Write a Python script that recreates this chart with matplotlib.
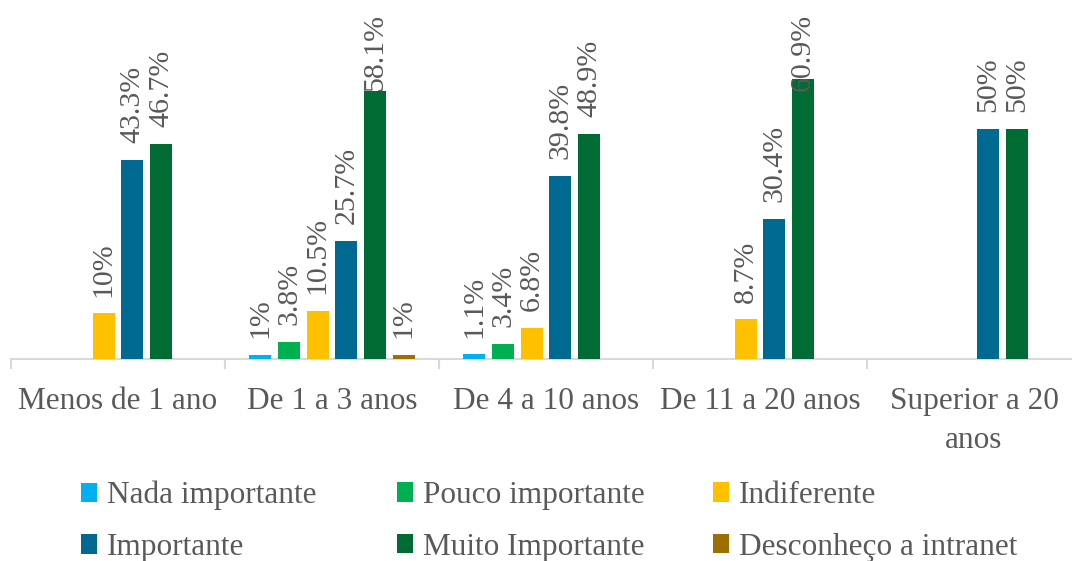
import numpy as np
import matplotlib
matplotlib.use("Agg")
import matplotlib.pyplot as plt
from matplotlib.patches import Patch

plt.rcParams['font.family'] = ['Liberation Serif', 'DejaVu Serif']

categories = ["Menos de 1 ano", "De 1 a 3 anos", "De 4 a 10 anos",
              "De 11 a 20 anos", "Superior a 20\nanos"]
series_names = ["Nada importante", "Pouco importante", "Indiferente",
                "Importante", "Muito Importante", "Desconheço a intranet"]
nan = np.nan
nada = [nan, 1.0, 1.1, nan, nan]
pouco = [nan, 3.8, 3.4, nan, nan]
indiferente = [10.0, 10.5, 6.8, 8.7, nan]
importante = [43.3, 25.7, 39.8, 30.4, 50.0]
muito = [46.7, 58.1, 48.9, 60.9, 50.0]
desconheco = [nan, 1.0, nan, nan, nan]
labels_text = [
    [None, "1%", "1.1%", None, None],
    [None, "3.8%", "3.4%", None, None],
    ["10%", "10.5%", "6.8%", "8.7%", None],
    ["43.3%", "25.7%", "39.8%", "30.4%", "50%"],
    ["46.7%", "58.1%", "48.9%", "60.9%", "50%"],
    [None, "1%", None, None, None],
]
series = [nada, pouco, indiferente, importante, muito, desconheco]
colors = ["#00B0F0", "#00B050", "#FFC000", "#006991", "#006B32", "#9C7000"]
text_color = "#595959"
axis_color = "#D9D9D9"

W, H, DPI = 1072, 561, 100
fig = plt.figure(figsize=(W / DPI, H / DPI), dpi=DPI)
fig.patch.set_facecolor("white")

base_y = 359.3
px_per_unit = 4.61
ymax = 70
ax_h = ymax * px_per_unit
ax = fig.add_axes([11 / W, (H - base_y) / H, 1070 / W, ax_h / H])
ax.set_xlim(-0.5, len(categories) - 0.5)
ax.set_ylim(0, ymax)

x = np.arange(len(categories))
pitch = 0.134
width = 0.104
n = len(series)
label_gap_pt = 12.0
annotations = []
for i, (vals, col, name) in enumerate(zip(series, colors, series_names)):
    off = (i - (n - 1) / 2) * pitch
    v = np.array(vals, dtype=float)
    ax.bar(x + off, np.nan_to_num(v), width=width, color=col, label=name,
           zorder=3)
    for j, val in enumerate(v):
        if np.isnan(val) or labels_text[i][j] is None:
            continue
        a = ax.annotate(labels_text[i][j], (x[j] + off, val),
                        xytext=(0, label_gap_pt), textcoords="offset points",
                        rotation=90, ha="center", va="bottom",
                        fontsize=21.5, color=text_color,
                        annotation_clip=False, zorder=4)
        annotations.append(a)

for s in ["top", "right", "left"]:
    ax.spines[s].set_visible(False)
ax.spines["bottom"].set_color(axis_color)
ax.spines["bottom"].set_linewidth(1.5)
ax.set_yticks([])
ax.set_xticks(x)
ax.set_xticklabels(categories, fontsize=22.5, color=text_color,
                   linespacing=1.45)
ax.tick_params(axis="x", which="major", length=0, pad=20)
ax.set_xticks(np.arange(-0.5, len(categories)), minor=True)
ax.tick_params(axis="x", which="minor", length=7.5, width=1.5,
               color=axis_color, direction="out")

# legend: three columns of two entries each
col_x = [81, 397, 713]
for c in range(3):
    idx = [c, c + 3]
    handles = [Patch(facecolor=colors[k], edgecolor="none") for k in idx]
    fig.legend(handles, [series_names[k] for k in idx],
               loc="upper left", bbox_to_anchor=(col_x[c] / W, 1 - 481 / H),
               frameon=False, fontsize=22.5, labelcolor=text_color,
               handlelength=0.52, handleheight=0.6, handletextpad=0.3,
               labelspacing=0.72, borderpad=0, borderaxespad=0)

# keep data labels inside the chart area: push tall ones down
fig.canvas.draw()
renderer = fig.canvas.get_renderer()
top_limit = H - 14  # pixels from bottom
for a in annotations:
    bb = a.get_window_extent(renderer)
    if bb.y1 > top_limit:
        shift_px = bb.y1 - top_limit
        ox, oy = a.xyann
        a.xyann = (ox, oy - shift_px * 72 / DPI)

fig.savefig("out.png", dpi=DPI, facecolor="white")
